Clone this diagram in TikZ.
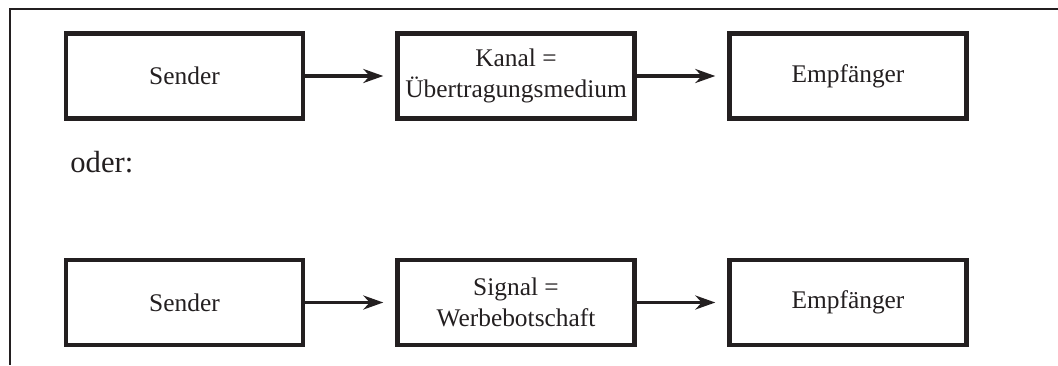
\documentclass[tikz,border=0pt]{standalone}
\usepackage{fontspec}
\setmainfont{Liberation Serif}
\usetikzlibrary{arrows.meta}
\definecolor{ink}{HTML}{231F20}
\tikzset{
  stage/.style={draw=ink, line width=2.2pt, minimum width=118.5pt, minimum height=42.5pt,
    inner sep=0pt, align=center, text=ink, font=\fontsize{12.7}{15.5}\selectfont},
  flow/.style={draw=ink, line width=1.8pt, -{Stealth[length=10pt,width=7pt]}, shorten >=6pt},
  frameline/.style={draw=ink, line width=1.3pt}
}
\begin{document}
\begin{tikzpicture}[x=0.5pt, y=-0.5pt]
\useasboundingbox (0,0) rectangle (1058,365);
% open frame: top and left edges only
\draw[frameline] (1058,9) -- (10,9) -- (10,365);

% first chain
\node[stage] (s1) at (184.5,76) {Sender};
\node[stage] (k1) at (516,76) {Kanal =\\Übertragungsmedium};
\node[stage] (e1) at (848,76) {Empfänger};
\draw[flow] (s1.east) -- (k1.west);
\draw[flow] (k1.east) -- (e1.west);

\node[anchor=base west, inner sep=0pt, text=ink, font=\fontsize{15.3}{18}\selectfont] (oder) at (70,172) {oder:};

% second chain
\node[stage] (s2) at (184.5,302.5) {Sender};
\node[stage] (k2) at (516,302.5) {Signal =\\Werbebotschaft};
\node[stage] (e2) at (848,302.5) {Empfänger};
\draw[flow] (s2.east) -- (k2.west);
\draw[flow] (k2.east) -- (e2.west);
\end{tikzpicture}
\end{document}
